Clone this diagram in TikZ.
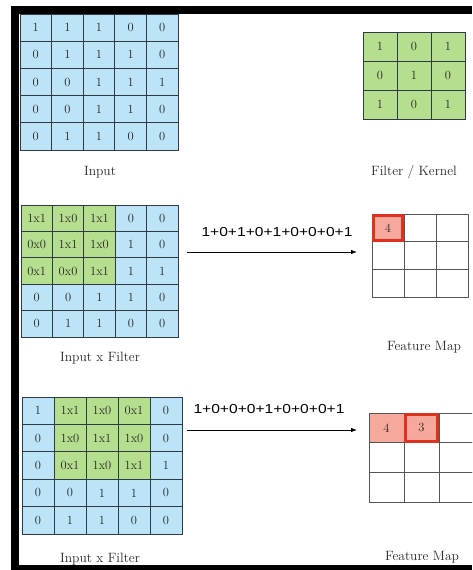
\documentclass[tikz,border=0pt]{standalone}
\usepackage{fontspec}
\newfontfamily\exprfont{Liberation Sans}
\usetikzlibrary{arrows.meta}
\definecolor{bluecell}{HTML}{BDE4F6}
\definecolor{greencell}{HTML}{B5DE8E}
\definecolor{gridline}{HTML}{2E3B46}
\definecolor{fmline}{HTML}{555555}
\definecolor{hlred}{HTML}{E0301E}
\definecolor{hlfill}{HTML}{F5A89B}
\definecolor{txt}{HTML}{262626}
\tikzset{
  cellfont/.style={text=txt, font=\fontsize{12.5}{13}\selectfont},
  bcell/.style={draw=gridline, fill=bluecell, line width=0.9pt, inner sep=0pt, cellfont},
  gcell/.style={draw=gridline, fill=greencell, line width=0.9pt, inner sep=0pt, cellfont},
  fcell/.style={draw=fmline, fill=white, line width=0.8pt, inner sep=0pt, cellfont},
  pcell/.style={draw=fmline, fill=hlfill, line width=0.8pt, inner sep=0pt, cellfont},
  lbl/.style={text=txt, font=\fontsize{13.5}{15}\selectfont, inner sep=0pt},
  expr/.style={text=black, font=\exprfont\fontsize{13}{15}\selectfont, inner sep=0pt},
  arr/.style={draw=black, line width=0.8pt, -{Latex[length=6pt,width=4.5pt]}},
  hl/.style={draw=hlred, line width=3pt},
}
\begin{document}
\begin{tikzpicture}[x=1pt,y=-1pt]
\fill[white] (0,0) rectangle (472,570);
\useasboundingbox (0,0) rectangle (472,570);
\begin{scope}
\clip (0,0) rectangle (472,570);
% ---------- Input ----------
\foreach \row [count=\r] in {{1,1,1,0,0},{0,1,1,1,0},{0,0,1,1,1},{0,0,1,1,0},{0,1,1,0,0}}{
  \foreach \v [count=\c] in \row {
    \node[bcell, minimum width=31.6pt, minimum height=27.2pt] (inA-\r-\c) at ({20+31.6*(\c-0.5)},{14+27.2*(\r-0.5)}) {\v};
  }
}
\node[lbl] (labInput) at (100,172) {Input};
% ---------- Filter ----------
\foreach \row [count=\r] in {{1,0,1},{0,1,0},{1,0,1}}{
  \foreach \v [count=\c] in \row {
    \node[gcell, minimum width=34pt, minimum height=29pt] (flt-\r-\c) at ({363+34*(\c-0.5)},{32+29*(\r-0.5)}) {\v};
  }
}
\node[lbl] (labFilter) at (414,172) {Filter / Kernel};
% ---------- Step 1 ----------
\foreach \row [count=\r] in {{1x1,1x0,1x1,0,0},{0x0,1x1,1x0,1,0},{0x1,0x0,1x1,1,1},{0,0,1,1,0},{0,1,1,0,0}}{
  \foreach \v [count=\c] in \row {
    \pgfmathtruncatemacro\g{(\r<=3)&&(\c<=3)}
    \ifnum\g=1 \def\cs{gcell}\else\def\cs{bcell}\fi
    \node[\cs, minimum width=31.4pt, minimum height=26.4pt] (inB-\r-\c) at ({21+31.4*(\c-0.5)},{205+26.4*(\r-0.5)}) {\v};
  }
}
\node[lbl] (labIF1) at (100,358) {Input x Filter};
\node[expr] (ex1) at (277,232) {\scalebox{1.2}[1]{1+0+1+0+1+0+0+0+1}};
\coordinate (a1s) at (187,252);
\coordinate (a1e) at (357,252);
\draw[arr] (a1s) -- (a1e);
\foreach \r in {1,2,3}{
  \foreach \c in {1,2,3}{
    \node[fcell, minimum width=32pt, minimum height=27.7pt] (fmA-\r-\c) at ({372+32*(\c-0.5)},{214+27.7*(\r-0.5)}) {};
  }
}
\node[pcell, minimum width=32pt, minimum height=27.7pt] (fmA-1-1) at ({372+16},{214+13.85}) {4};
\draw[hl] ([shift={(1.5pt,-1.5pt)}]fmA-1-1.north west) rectangle ([shift={(-1.5pt,1.5pt)}]fmA-1-1.south east);
\node[lbl] (labFM1) at (424,347) {Feature Map};
% ---------- Step 2 ----------
\foreach \row [count=\r] in {{1,1x1,1x0,0x1,0},{0,1x0,1x1,1x0,0},{0,0x1,1x0,1x1,1},{0,0,1,1,0},{0,1,1,0,0}}{
  \foreach \v [count=\c] in \row {
    \pgfmathtruncatemacro\g{(\r<=3)&&(\c>=2)&&(\c<=4)}
    \ifnum\g=1 \def\cs{gcell}\else\def\cs{bcell}\fi
    \node[\cs, minimum width=32pt, minimum height=27.4pt] (inC-\r-\c) at ({22+32*(\c-0.5)},{397+27.4*(\r-0.5)}) {\v};
  }
}
\node[lbl] (labIF2) at (100,559) {Input x Filter};
\node[expr] (ex2) at (269,409) {\scalebox{1.2}[1]{1+0+0+0+1+0+0+0+1}};
\coordinate (a2s) at (187,430);
\coordinate (a2e) at (357,430);
\draw[arr] (a2s) -- (a2e);
\foreach \r in {1,2,3}{
  \foreach \c in {1,2,3}{
    \node[fcell, minimum width=35pt, minimum height=29.7pt] (fmB-\r-\c) at ({369+35*(\c-0.5)},{413+29.7*(\r-0.5)}) {};
  }
}
\node[pcell, minimum width=35pt, minimum height=29.7pt] (fmB-1-1) at ({369+17.5},{413+14.85}) {4};
\node[pcell, minimum width=35pt, minimum height=29.7pt] (fmB-1-2) at ({369+52.5},{413+14.85}) {3};
\draw[hl] ([shift={(1.5pt,-1.5pt)}]fmB-1-2.north west) rectangle ([shift={(-1.5pt,1.5pt)}]fmB-1-2.south east);
\node[lbl] (labFM2) at (422,557) {Feature Map};
% ---------- Frame ----------
\fill[black] (11,6) rectangle (472,14);
\fill[black] (11,6) rectangle (19,570);
\fill[black] (11,565) rectangle (472,570);
\end{scope}
\end{tikzpicture}
\end{document}
